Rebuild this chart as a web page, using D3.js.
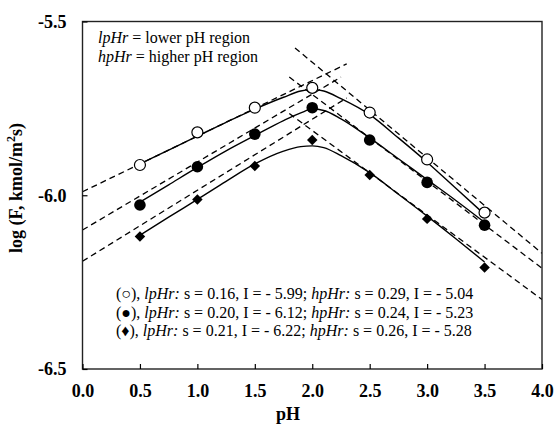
<!DOCTYPE html>
<html>
<head>
<meta charset="utf-8">
<script src="https://cdn.jsdelivr.net/npm/d3@7"></script>
<style>
  html, body { margin: 0; padding: 0; background: #fff; }
  svg { display: block; }
  text { font-family: "Liberation Serif", "Times New Roman", serif; fill: #000; }
</style>
</head>
<body>
<svg id="chart" width="555" height="425"></svg>
<script>
// ---------- data ----------
const phValues      = [0.5, 1.0, 1.5, 2.0, 2.5, 3.0, 3.5];
const openValues    = [-5.913, -5.819, -5.748, -5.691, -5.762, -5.897, -6.050];
const filledValues  = [-6.028, -5.918, -5.824, -5.748, -5.841, -5.963, -6.086];
const diamondValues = [-6.119, -6.012, -5.916, -5.841, -5.942, -6.068, -6.208];

// solid model curves
const curvePH       = [0.5, 0.75, 1.0, 1.25, 1.5, 1.75, 1.9, 2.0, 2.1, 2.25, 2.5, 2.75, 3.0, 3.25, 3.5];
const openCurve     = [-5.91, -5.87, -5.83, -5.79, -5.752, -5.718, -5.700, -5.696, -5.700, -5.722, -5.768, -5.835, -5.905, -5.98, -6.055];
const filledCurve   = [-6.02, -5.97, -5.92, -5.872, -5.828, -5.785, -5.763, -5.752, -5.756, -5.78, -5.835, -5.895, -5.955, -6.015, -6.078];
const diamondCurve  = [-6.115, -6.063, -6.012, -5.96, -5.91, -5.873, -5.86, -5.858, -5.863, -5.886, -5.935, -5.997, -6.06, -6.125, -6.192];

// dashed linear fits (lower pH region / higher pH region)
const lpStartPH  = [0, 0, 0];
const lpEndPH    = [2.3, 2.25, 2.3];
const lpStartVal = [-5.99, -6.10, -6.19];
const lpEndVal   = [-5.622, -5.66, -5.72];
const hpStartPH  = [1.85, 1.8, 1.8];
const hpEndPH    = [4.0, 4.0, 4.0];
const hpStartVal = [-5.576, -5.66, -5.765];
const hpEndVal   = [-6.167, -6.21, -6.30];

// axes
const xTicks = [0.0, 0.5, 1.0, 1.5, 2.0, 2.5, 3.0, 3.5, 4.0];
const yTicks = [-6.5, -6.0, -5.5];
const xTitle = "pH";

// annotations
const noteLines = [
  [["lpHr", true], [" = lower pH region", false]],
  [["hpHr", true], [" = higher pH region", false]]
];
const captionLines = [
  [["(○), ", false], ["lpHr:", true], [" s = 0.16, I = - 5.99; ", false], ["hpHr:", true], [" s = 0.29, I = - 5.04", false]],
  [["(●), ", false], ["lpHr:", true], [" s = 0.20, I = - 6.12; ", false], ["hpHr:", true], [" s = 0.24, I = - 5.23", false]],
  [["(♦), ", false], ["lpHr:", true], [" s = 0.21, I = - 6.22; ", false], ["hpHr:", true], [" s = 0.26, I = - 5.28", false]]
];

// ---------- drawing ----------
const svg = d3.select("#chart");
const L = 82.5, R = 542, T = 21.5, B = 369;
const x = d3.scaleLinear().domain([0, 4]).range([L, R]);
const y = d3.scaleLinear().domain([-6.5, -5.5]).range([B, T]);

const clipId = "plotclip";
svg.append("defs").append("clipPath").attr("id", clipId)
  .append("rect").attr("x", L).attr("y", T).attr("width", R - L).attr("height", B - T);

const plot = svg.append("g").attr("clip-path", `url(#${clipId})`);

// dashed fit lines
const lineGen = d3.line().x(d => x(d[0])).y(d => y(d[1]));
for (let i = 0; i < 3; i++) {
  plot.append("path")
    .attr("d", lineGen([[lpStartPH[i], lpStartVal[i]], [lpEndPH[i], lpEndVal[i]]]))
    .attr("fill", "none").attr("stroke", "#000").attr("stroke-width", 1.3)
    .attr("stroke-dasharray", "6,4");
  plot.append("path")
    .attr("d", lineGen([[hpStartPH[i], hpStartVal[i]], [hpEndPH[i], hpEndVal[i]]]))
    .attr("fill", "none").attr("stroke", "#000").attr("stroke-width", 1.3)
    .attr("stroke-dasharray", "6,4");
}

// solid curves
const curveGen = d3.line().x(d => x(d[0])).y(d => y(d[1])).curve(d3.curveMonotoneX);
[openCurve, filledCurve, diamondCurve].forEach(c => {
  plot.append("path")
    .attr("d", curveGen(curvePH.map((p, i) => [p, c[i]])))
    .attr("fill", "none").attr("stroke", "#000").attr("stroke-width", 1.4);
});

// markers
plot.selectAll(".open").data(phValues.map((p, i) => [p, openValues[i]])).enter()
  .append("circle").attr("cx", d => x(d[0])).attr("cy", d => y(d[1])).attr("r", 5.5)
  .attr("fill", "#fff").attr("stroke", "#000").attr("stroke-width", 1.2);
plot.selectAll(".filled").data(phValues.map((p, i) => [p, filledValues[i]])).enter()
  .append("circle").attr("cx", d => x(d[0])).attr("cy", d => y(d[1])).attr("r", 5.8)
  .attr("fill", "#000");
const diamond = d3.symbol().type(d3.symbolDiamond2).size(70);
plot.selectAll(".diamond").data(phValues.map((p, i) => [p, diamondValues[i]])).enter()
  .append("path").attr("d", diamond)
  .attr("transform", d => `translate(${x(d[0])},${y(d[1])})`)
  .attr("fill", "#000");

// frame
svg.append("rect").attr("x", L).attr("y", T).attr("width", R - L).attr("height", B - T)
  .attr("fill", "none").attr("stroke", "#222").attr("stroke-width", 1.4);

// axes (inside ticks)
const xAxis = svg.append("g").attr("transform", `translate(0,${B})`)
  .call(d3.axisBottom(x).tickValues(xTicks).tickSize(-5).tickPadding(12).tickFormat(d3.format(".1f")));
xAxis.select(".domain").remove();
xAxis.selectAll("line").attr("stroke", "#000").attr("stroke-width", 1.2);
xAxis.selectAll("text").attr("font-size", 18).attr("font-weight", "bold")
  .attr("font-family", "Liberation Serif").attr("dy", "0.9em");

const yAxis = svg.append("g").attr("transform", `translate(${L},0)`)
  .call(d3.axisLeft(y).tickValues(yTicks).tickSize(-5).tickPadding(16).tickFormat(d3.format(".1f")));
yAxis.select(".domain").remove();
yAxis.selectAll("line").attr("stroke", "#000").attr("stroke-width", 1.2);
yAxis.selectAll("text").attr("font-size", 18).attr("font-weight", "bold")
  .attr("font-family", "Liberation Serif").text(d => d3.format(".1f")(d).replace("−", "-"));

// axis titles
svg.append("text").attr("x", 288).attr("y", 420).attr("text-anchor", "middle")
  .attr("font-size", 18).attr("font-weight", "bold").text(xTitle);

const yt = svg.append("text").attr("transform", "translate(22,188) rotate(-90)")
  .attr("text-anchor", "middle").attr("font-size", 18).attr("font-weight", "bold");
yt.append("tspan").text("log (F, kmol/m");
yt.append("tspan").attr("font-size", 12).attr("dy", -7).text("2");
yt.append("tspan").attr("dy", 7).text("s)");

// notes
function richText(g, parts, xx, yy, fs) {
  const t = g.append("text").attr("x", xx).attr("y", yy).attr("font-size", fs);
  parts.forEach(p => t.append("tspan").attr("font-style", p[1] ? "italic" : "normal").text(p[0]));
  return t;
}
noteLines.forEach((ln, i) => richText(svg, ln, 98, 43 + i * 19, 16));
captionLines.forEach((ln, i) => richText(svg, ln, 116, 299 + i * 18.5, 16));
</script>
</body>
</html>
